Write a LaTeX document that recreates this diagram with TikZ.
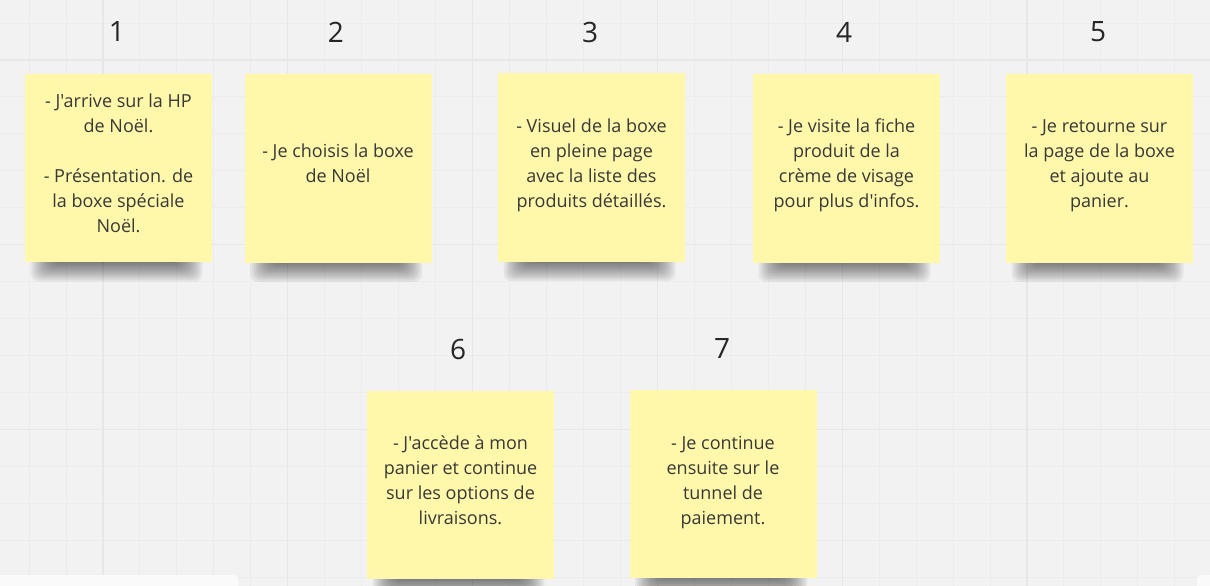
\documentclass[tikz,border=0pt]{standalone}
\usepackage{fontspec}
\setmainfont{Open Sans}[Ligatures=TeXOff]
\definecolor{board}{HTML}{F2F2F2}
\definecolor{gridmin}{HTML}{ECECEC}
\definecolor{gridmaj}{HTML}{E7E7E7}
\definecolor{stickyyel}{HTML}{FFF7AA}
\definecolor{inkx}{HTML}{383838}
\tikzset{
    sticky/.style={fill=stickyyel,inner sep=0pt,minimum width=187pt,minimum height=188pt},
    notetext/.style={inkx,align=center,font=\fontsize{18}{25}\selectfont},
    stepnum/.style={black!85,font=\fontsize{28}{30}\selectfont},
    shadowlayer/.style={black,fill opacity=0.05,rounded corners=8pt},
    gridminor/.style={gridmin,line width=0.9pt},
    gridmajor/.style={gridmaj,line width=1.3pt}
}

\begin{document}
\begin{tikzpicture}[x=1pt,y=-1pt]
        \useasboundingbox (0,0) rectangle (1210,586);
        \fill [board] (0,0) rectangle (1210,586);
        % board grid
        \foreach \i in {0,...,32} {
            \draw [gridminor] ({29+\i*36.96},0) -- ++(0,586);
        }
        \foreach \i in {0,...,15} {
            \draw [gridminor] (0,{23+\i*36.96}) -- ++(1210,0);
        }
        \foreach \i in {0,...,6} {
            \draw [gridmajor] ({103+\i*184.8},0) -- ++(0,586);
        }
        \foreach \i in {0,...,2} {
            \draw [gridmajor] (0,{60+\i*184.8}) -- ++(1210,0);
        }
        % shadows under the sticky notes
        \foreach \cx/\cy in {118.5/168,338/168.5,591.5/167.5,846.5/168.5,1099.5/168.5,460.5/485,723/484} {
            \foreach \k in {0,...,11} {
                \fill [shadowlayer] (\cx-66-2*\k,\cy+70) rectangle (\cx+62+2*\k,\cy+95+1.7*\k);
            }
        }
        % sticky notes
        \node [sticky] (note1) at (118.5,168) {};
        \node [sticky] (note2) at (338,168.5) {};
        \node [sticky] (note3) at (591.5,167.5) {};
        \node [sticky] (note4) at (846.5,168.5) {};
        \node [sticky] (note5) at (1099.5,168.5) {};
        \node [sticky] (note6) at (460.5,485) {};
        \node [sticky] (note7) at (723,484) {};
        \node [notetext,yshift=4.5pt] (txt1) at (note1) {- J'arrive sur la HP\\de Noël.\\[25pt]- Présentation. de\\la boxe spéciale\\Noël.};
        \node [notetext,yshift=5.5pt] (txt2) at (note2) {- Je choisis la boxe\\de Noël};
        \node [notetext,yshift=2.5pt] (txt3) at (note3) {- Visuel de la boxe\\en pleine page\\avec la liste des\\produits détaillés.};
        \node [notetext,yshift=3.5pt] (txt4) at (note4) {- Je visite la fiche\\produit de la\\crème de visage\\pour plus d'infos.};
        \node [notetext,yshift=2.5pt] (txt5) at (note5) {- Je retourne sur\\la page de la boxe\\et ajoute au\\panier.};
        \node [notetext,yshift=4.5pt] (txt6) at (note6) {- J'accède à mon\\panier et continue\\sur les options de\\livraisons.};
        \node [notetext,yshift=1.5pt] (txt7) at (note7) {- Je continue\\ensuite sur le\\tunnel de\\paiement.};
        % step numbers
        \foreach \n/\x/\y in {1/117/32,2/336/32,3/590/32,4/844/32,5/1098/32,6/458/349,7/722/349} {
            \node [stepnum] (num\n) at (\x,\y) {\n};
        }
        % white panels at the bottom edge
        \fill [white!60!board,rounded corners=4pt] (-10,575) rectangle (238,600);
        \fill [white!60!board,rounded corners=4pt] (1197,575) rectangle (1220,600);
    \end{tikzpicture}
\end{document}
